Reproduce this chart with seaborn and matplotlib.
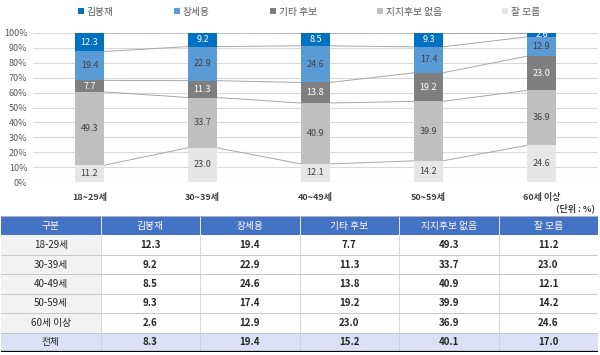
import numpy as np
import pandas as pd
import seaborn as sns
import matplotlib.pyplot as plt
from matplotlib.patches import Patch, Rectangle

# --- Data ---
ages = ["18~29세", "30~39세", "40~49세", "50~59세", "60세 이상"]
row_labels = ["18-29세", "30-39세", "40-49세", "50-59세", "60세 이상", "전체"]
series = ["김봉재", "장세용", "기타 후보", "지지후보 없음", "잘 모름"]
kim = [12.3, 9.2, 8.5, 9.3, 2.6]
jang = [19.4, 22.9, 24.6, 17.4, 12.9]
other = [7.7, 11.3, 13.8, 19.2, 23.0]
no_pick = [49.3, 33.7, 40.9, 39.9, 36.9]
dunno = [11.2, 23.0, 12.1, 14.2, 24.6]
total = [8.3, 19.4, 15.2, 40.1, 17.0]

colors = ["#0070C0", "#5B9BD5", "#7F7F7F", "#BFBFBF", "#E7E6E6"]
label_colors = ["white", "#404040", "white", "#404040", "#404040"]

sns.set_theme(style="white")
plt.rcParams["font.family"] = ["Noto Sans CJK KR", "DejaVu Sans"]

df = pd.DataFrame({"age": ages, "김봉재": kim, "장세용": jang, "기타 후보": other,
                   "지지후보 없음": no_pick, "잘 모름": dunno})

# stack from the bottom: 잘 모름 -> 지지후보 없음 -> 기타 후보 -> 장세용 -> 김봉재
stack_order = series[::-1]
cum = df[stack_order].cumsum(axis=1)
low = cum - df[stack_order]

fig = plt.figure(figsize=(6, 3.55), dpi=100)
ax = fig.add_axes([33 / 600, (355 - 182) / 355, 565 / 600, 149 / 355])

bar_w = 0.25
# draw cumulative bars, tallest first, so each one covers the part above it
for name in series:
    c = colors[series.index(name)]
    sns.barplot(x=df["age"], y=cum[name], color=c, saturation=1, width=bar_w,
                errorbar=None, linewidth=0, ax=ax, zorder=3)

# series lines between bars
for name in stack_order:
    vals = cum[name].values
    for i in range(len(ages) - 1):
        ax.plot([i + bar_w / 2, i + 1 - bar_w / 2], [vals[i], vals[i + 1]],
                color="#A6A6A6", lw=0.7, zorder=2)

# data labels
for name in series:
    k = series.index(name)
    for i in range(len(ages)):
        v = df[name].iloc[i]
        y = low[name].iloc[i] + v / 2
        ax.text(i, y, f"{v:.1f}", ha="center", va="center", fontsize=6.5,
                color=label_colors[k], zorder=4, clip_on=True)

ax.set_ylim(0, 100)
ax.set_xlim(-0.5, 4.5)
ax.set_yticks(np.arange(0, 101, 10))
ax.set_yticklabels([f"{t}%" for t in range(0, 101, 10)], fontsize=6.5, color="#595959")
ax.set_xlabel("")
ax.set_ylabel("")
ax.yaxis.grid(True, color="#D9D9D9", lw=0.8, zorder=0)
ax.set_axisbelow(True)
for s in ax.spines.values():
    s.set_visible(False)
ax.tick_params(axis="both", length=0, pad=4)
ax.tick_params(axis="x", pad=8)
for t in ax.get_xticklabels():
    t.set_fontsize(6.5)
    t.set_color("#404040")
    t.set_fontweight("bold")

handles = [Patch(facecolor=c, edgecolor="none") for c in colors]
fig.legend(handles, series, loc="center", bbox_to_anchor=(0.515, 0.967), ncol=5,
           frameon=False, fontsize=7, handlelength=0.6, handleheight=0.6,
           handletextpad=0.3, columnspacing=6.2, labelcolor="#595959")

fig.text(595 / 600, (355 - 208) / 355, "(단위 : %)", ha="right", va="center",
         fontsize=6.5, color="#404040", fontweight="bold")

# --- Table ---
tax = fig.add_axes([1 / 600, (355 - 352) / 355, 597 / 600, 136 / 355])
tax.set_xlim(0, 6)
tax.set_ylim(7, 0)
tax.axis("off")

header = ["구분"] + series
body = np.column_stack([kim + [total[0]], jang + [total[1]], other + [total[2]],
                        no_pick + [total[3]], dunno + [total[4]]])

for c in range(6):
    tax.add_patch(Rectangle((c, 0), 1, 1, facecolor="#4472C4", edgecolor="none"))
    tax.text(c + 0.5, 0.5, header[c], ha="center", va="center", fontsize=7, color="white")
for r in range(6):
    for c in range(6):
        if r == 5:
            fc = "#DCE0F4"
        elif c == 0:
            fc = "#F2F2F2"
        else:
            fc = "white"
        tax.add_patch(Rectangle((c, r + 1), 1, 1, facecolor=fc, edgecolor="none"))
        txt = row_labels[r] if c == 0 else f"{body[r, c - 1]:.1f}"
        tax.text(c + 0.5, r + 1.5, txt, ha="center", va="center", fontsize=7,
                 color="#262626", fontweight="normal" if c == 0 else "bold")

for r in range(2, 7):
    tax.plot([0, 6], [r, r], color="#BFBFBF", lw=0.6)
for c in range(1, 6):
    tax.plot([c, c], [0, 1], color="white", lw=0.6)
    tax.plot([c, c], [1, 7], color="#D0D0D0", lw=0.6)
tax.plot([0, 6], [7, 7], color="black", lw=1.6)
tax.plot([0, 6], [0, 0], color="#BFBFBF", lw=0.6)

fig.savefig("out.png", dpi=100)
